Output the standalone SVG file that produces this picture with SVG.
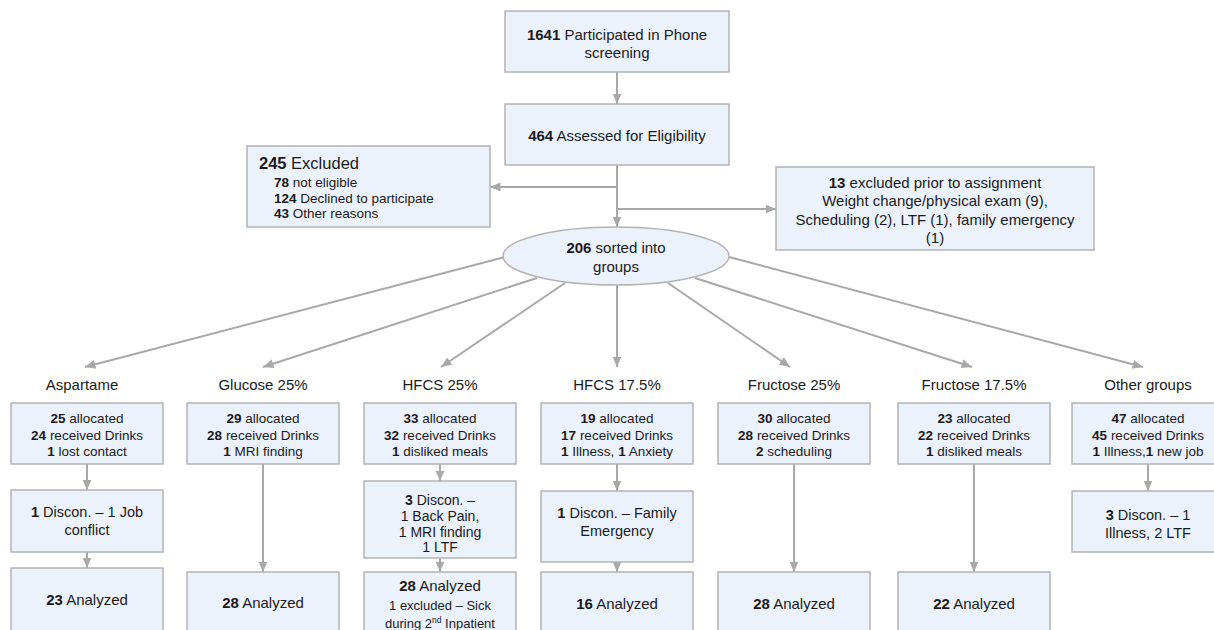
<svg xmlns="http://www.w3.org/2000/svg" width="1214" height="630" viewBox="0 0 1214 630">
<style>
.box{fill:#ecf2fc;stroke:#b3b3b3;stroke-width:1.5}
.conn{stroke:#a8a8a8;stroke-width:2;fill:none}
text{font-family:"Liberation Sans",Arial,sans-serif;fill:#1a1a1a}
.c{text-anchor:middle}
.b{font-weight:bold}
.f15{font-size:15px}
.f145{font-size:14.5px}
.f14{font-size:14px}
.f135{font-size:13.5px}
.f13{font-size:13px}
</style>
<defs>
<marker id="ah" markerUnits="userSpaceOnUse" markerWidth="11" markerHeight="11" viewBox="0 0 11 11" refX="10.5" refY="5.5" orient="auto">
<path d="M0,1 L10.5,5.5 L0,10 z" fill="#a8a8a8"/>
</marker>
</defs>
<rect width="1214" height="630" fill="#ffffff"/>

<g id="connectors">
<line class="conn" x1="617" y1="72" x2="617" y2="104" marker-end="url(#ah)"/>
<line class="conn" x1="617" y1="165" x2="617" y2="227" marker-end="url(#ah)"/>
<line class="conn" x1="617" y1="187" x2="490" y2="187" marker-end="url(#ah)"/>
<line class="conn" x1="617" y1="209" x2="776" y2="209" marker-end="url(#ah)"/>
<line class="conn" x1="505" y1="257" x2="85" y2="367" marker-end="url(#ah)"/>
<line class="conn" x1="537" y1="278" x2="263" y2="367" marker-end="url(#ah)"/>
<line class="conn" x1="565" y1="283" x2="441" y2="367" marker-end="url(#ah)"/>
<line class="conn" x1="617" y1="285" x2="617" y2="367" marker-end="url(#ah)"/>
<line class="conn" x1="668" y1="283" x2="790" y2="367" marker-end="url(#ah)"/>
<line class="conn" x1="695" y1="278" x2="972" y2="367" marker-end="url(#ah)"/>
<line class="conn" x1="729" y1="257" x2="1143" y2="367" marker-end="url(#ah)"/>
<line class="conn" x1="87" y1="464" x2="87" y2="490" marker-end="url(#ah)"/>
<line class="conn" x1="87" y1="552" x2="87" y2="568" marker-end="url(#ah)"/>
<line class="conn" x1="263" y1="464" x2="263" y2="572" marker-end="url(#ah)"/>
<line class="conn" x1="440" y1="464" x2="440" y2="481" marker-end="url(#ah)"/>
<line class="conn" x1="440" y1="558" x2="440" y2="572" marker-end="url(#ah)"/>
<line class="conn" x1="617" y1="464" x2="617" y2="491" marker-end="url(#ah)"/>
<line class="conn" x1="617" y1="562" x2="617" y2="572" marker-end="url(#ah)"/>
<line class="conn" x1="794" y1="464" x2="794" y2="572" marker-end="url(#ah)"/>
<line class="conn" x1="974" y1="464" x2="974" y2="572" marker-end="url(#ah)"/>
<line class="conn" x1="1148" y1="464" x2="1148" y2="491" marker-end="url(#ah)"/>
</g>

<g id="screening">
<rect class="box" x="505" y="11" width="224" height="61"/>
<text class="c f15" x="617" y="39.5"><tspan class="b">1641</tspan> Participated in Phone</text>
<text class="c f15" x="617" y="58">screening</text>
</g>

<g id="assessed">
<rect class="box" x="505" y="104" width="224" height="61"/>
<text class="c f15" x="617" y="141"><tspan class="b">464</tspan> Assessed for Eligibility</text>
</g>

<g id="excluded">
<rect class="box" x="247" y="146" width="243" height="81"/>
<text x="259" y="169" style="font-size:16.5px"><tspan class="b">245</tspan> Excluded</text>
<text class="f135" x="274" y="187"><tspan class="b">78</tspan> not eligible</text>
<text class="f135" x="274" y="203"><tspan class="b">124</tspan> Declined to participate</text>
<text class="f135" x="274" y="218"><tspan class="b">43</tspan> Other reasons</text>
</g>

<g id="excluded-prior">
<rect class="box" x="776" y="167" width="318" height="83"/>
<text class="c f15" x="935" y="187.5"><tspan class="b">13</tspan> excluded prior to assignment</text>
<text class="c f15" x="935" y="206">Weight change/physical exam (9),</text>
<text class="c f15" x="935" y="224.5">Scheduling (2), LTF (1), family emergency</text>
<text class="c f15" x="935" y="243">(1)</text>
</g>

<g id="sorted">
<ellipse class="box" cx="616" cy="256" rx="113" ry="29"/>
<text class="c f15" x="616" y="253"><tspan class="b">206</tspan> sorted into</text>
<text class="c f15" x="616" y="272">groups</text>
</g>

<g id="labels">
<text class="c f15" x="82" y="390">Aspartame</text>
<text class="c f15" x="263" y="390">Glucose 25%</text>
<text class="c f15" x="440" y="390">HFCS 25%</text>
<text class="c f15" x="617" y="390">HFCS 17.5%</text>
<text class="c f15" x="794" y="390">Fructose 25%</text>
<text class="c f15" x="974" y="390">Fructose 17.5%</text>
<text class="c f15" x="1148" y="390">Other groups</text>
</g>

<g id="aspartame">
<rect class="box" x="11" y="403" width="152" height="61"/>
<text class="c f135" x="87" y="423"><tspan class="b">25</tspan> allocated</text>
<text class="c f135" x="87" y="440"><tspan class="b">24</tspan> received Drinks</text>
<text class="c f135" x="87" y="456"><tspan class="b">1</tspan> lost contact</text>
<rect class="box" x="11" y="490" width="152" height="62"/>
<text class="c f145" x="87" y="517"><tspan class="b">1</tspan> Discon. – 1 Job</text>
<text class="c f145" x="87" y="535">conflict</text>
<rect class="box" x="11" y="568" width="152" height="70"/>
<text class="c f15" x="87" y="605"><tspan class="b">23</tspan> Analyzed</text>
</g>

<g id="glucose">
<rect class="box" x="187" y="403" width="152" height="61"/>
<text class="c f135" x="263" y="423"><tspan class="b">29</tspan> allocated</text>
<text class="c f135" x="263" y="440"><tspan class="b">28</tspan> received Drinks</text>
<text class="c f135" x="263" y="456"><tspan class="b">1</tspan> MRI finding</text>
<rect class="box" x="187" y="572" width="152" height="66"/>
<text class="c f15" x="263" y="608"><tspan class="b">28</tspan> Analyzed</text>
</g>

<g id="hfcs25">
<rect class="box" x="364" y="403" width="152" height="61"/>
<text class="c f135" x="440" y="423"><tspan class="b">33</tspan> allocated</text>
<text class="c f135" x="440" y="440"><tspan class="b">32</tspan> received Drinks</text>
<text class="c f135" x="440" y="456"><tspan class="b">1</tspan> disliked meals</text>
<rect class="box" x="364" y="481" width="152" height="77"/>
<text class="c f14" x="440" y="505"><tspan class="b">3</tspan> Discon. –</text>
<text class="c f14" x="440" y="521">1 Back Pain,</text>
<text class="c f14" x="440" y="537">1 MRI finding</text>
<text class="c f14" x="440" y="552">1 LTF</text>
<rect class="box" x="364" y="572" width="152" height="66"/>
<text class="c f15" x="440" y="591"><tspan class="b">28</tspan> Analyzed</text>
<text class="c f13" x="440" y="610">1 excluded – Sick</text>
<text class="c f13" x="440" y="628">during 2<tspan style="font-size:8.5px" baseline-shift="super">nd</tspan> Inpatient</text>
</g>

<g id="hfcs175">
<rect class="box" x="541" y="403" width="152" height="61"/>
<text class="c f135" x="617" y="423"><tspan class="b">19</tspan> allocated</text>
<text class="c f135" x="617" y="440"><tspan class="b">17</tspan> received Drinks</text>
<text class="c f135" x="617" y="456"><tspan class="b">1</tspan> Illness, <tspan class="b">1</tspan> Anxiety</text>
<rect class="box" x="541" y="491" width="152" height="71"/>
<text class="c f145" x="617" y="518"><tspan class="b">1</tspan> Discon. – Family</text>
<text class="c f145" x="617" y="536">Emergency</text>
<rect class="box" x="541" y="572" width="152" height="66"/>
<text class="c f15" x="617" y="609"><tspan class="b">16</tspan> Analyzed</text>
</g>

<g id="fructose25">
<rect class="box" x="718" y="403" width="152" height="61"/>
<text class="c f135" x="794" y="423"><tspan class="b">30</tspan> allocated</text>
<text class="c f135" x="794" y="440"><tspan class="b">28</tspan> received Drinks</text>
<text class="c f135" x="794" y="456"><tspan class="b">2</tspan> scheduling</text>
<rect class="box" x="718" y="572" width="152" height="66"/>
<text class="c f15" x="794" y="609"><tspan class="b">28</tspan> Analyzed</text>
</g>

<g id="fructose175">
<rect class="box" x="898" y="403" width="152" height="61"/>
<text class="c f135" x="974" y="423"><tspan class="b">23</tspan> allocated</text>
<text class="c f135" x="974" y="440"><tspan class="b">22</tspan> received Drinks</text>
<text class="c f135" x="974" y="456"><tspan class="b">1</tspan> disliked meals</text>
<rect class="box" x="898" y="572" width="152" height="66"/>
<text class="c f15" x="974" y="609"><tspan class="b">22</tspan> Analyzed</text>
</g>

<g id="other">
<rect class="box" x="1072" y="403" width="152" height="61"/>
<text class="c f135" x="1148" y="423"><tspan class="b">47</tspan> allocated</text>
<text class="c f135" x="1148" y="440"><tspan class="b">45</tspan> received Drinks</text>
<text class="c f135" x="1148" y="456"><tspan class="b">1</tspan> Illness,<tspan class="b">1</tspan> new job</text>
<rect class="box" x="1072" y="491" width="152" height="61"/>
<text class="c f145" x="1148" y="520"><tspan class="b">3</tspan> Discon. – 1</text>
<text class="c f145" x="1148" y="538">Illness, 2 LTF</text>
</g>
</svg>
